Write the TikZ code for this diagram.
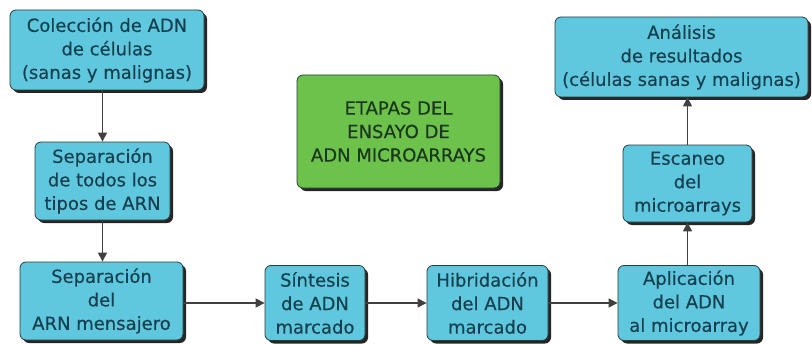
\documentclass[tikz,border=0pt]{standalone}
\usepackage{fontspec}
\setmainfont{DejaVu Sans}
\newfontfamily\boxfont{DejaVu Sans}[FakeBold=0.4]
\usetikzlibrary{shadows,arrows.meta}
\definecolor{boxcyan}{RGB}{96,200,222}
\definecolor{boxgreen}{RGB}{108,194,74}
\definecolor{txtteal}{RGB}{22,64,80}
\definecolor{txtgreen}{RGB}{28,56,28}
\definecolor{edgecol}{RGB}{40,60,60}
\begin{document}
\begin{tikzpicture}[x=1pt,y=-1pt,
  stagebox/.style={draw=edgecol,line width=0.8pt,fill=boxcyan,rounded corners=6pt,
    text=txtteal,align=center,inner sep=0pt,
    font=\boxfont\fontsize{18}{23.5}\selectfont,
    drop shadow={shadow xshift=3pt,shadow yshift=-3pt,fill=black!85,opacity=1}},
  titlebox/.style={stagebox,fill=boxgreen,text=txtgreen},
  flow/.style={draw=black!75,line width=1.2pt,-{Triangle[length=9pt,width=9pt]}}]
\useasboundingbox (0,0) rectangle (812,345);
\node[stagebox,minimum width=194pt,minimum height=80pt] (c1) at (107,50)
  {Colección de ADN\\de células\\(sanas y malignas)};
\node[stagebox,minimum width=135pt,minimum height=78pt] (c2) at (102.5,181)
  {Separación\\de todos los\\tipos de ARN};
\node[stagebox,minimum width=163pt,minimum height=78pt] (c3) at (101.5,301)
  {Separación\\del\\ARN mensajero};
\node[stagebox,minimum width=100pt,minimum height=75pt] (c4) at (315,303)
  {Síntesis\\de ADN\\marcado};
\node[stagebox,minimum width=121pt,minimum height=75pt] (c5) at (487.5,303)
  {Hibridación\\del ADN\\marcado};
\node[stagebox,minimum width=142pt,minimum height=75pt] (c6) at (689,303)
  {Aplicación\\del ADN\\al microarray};
\node[stagebox,minimum width=129pt,minimum height=77pt] (c7) at (687.5,183.5)
  {Escaneo\\del\\microarrays};
\node[stagebox,minimum width=253pt,minimum height=80pt] (c8) at (681.5,57)
  {Análisis\\de resultados\\(células sanas y malignas)};
\node[titlebox,minimum width=203pt,minimum height=113pt] (t) at (398.5,131.5)
  {ETAPAS DEL\\ENSAYO DE\\ADN MICROARRAYS};
\draw[flow] (c1.south -| c2.north) -- (c2.north);
\draw[flow] (c2.south) -- (c3.north -| c2.south);
\draw[flow] (c3.east |- c4.west) -- (c4.west);
\draw[flow] (c4.east) -- (c5.west);
\draw[flow] (c5.east) -- (c6.west);
\draw[flow] (c6.north -| c7.south) -- (c7.south);
\draw[flow] (c7.north) -- (c8.south -| c7.north);
\end{tikzpicture}
\end{document}
